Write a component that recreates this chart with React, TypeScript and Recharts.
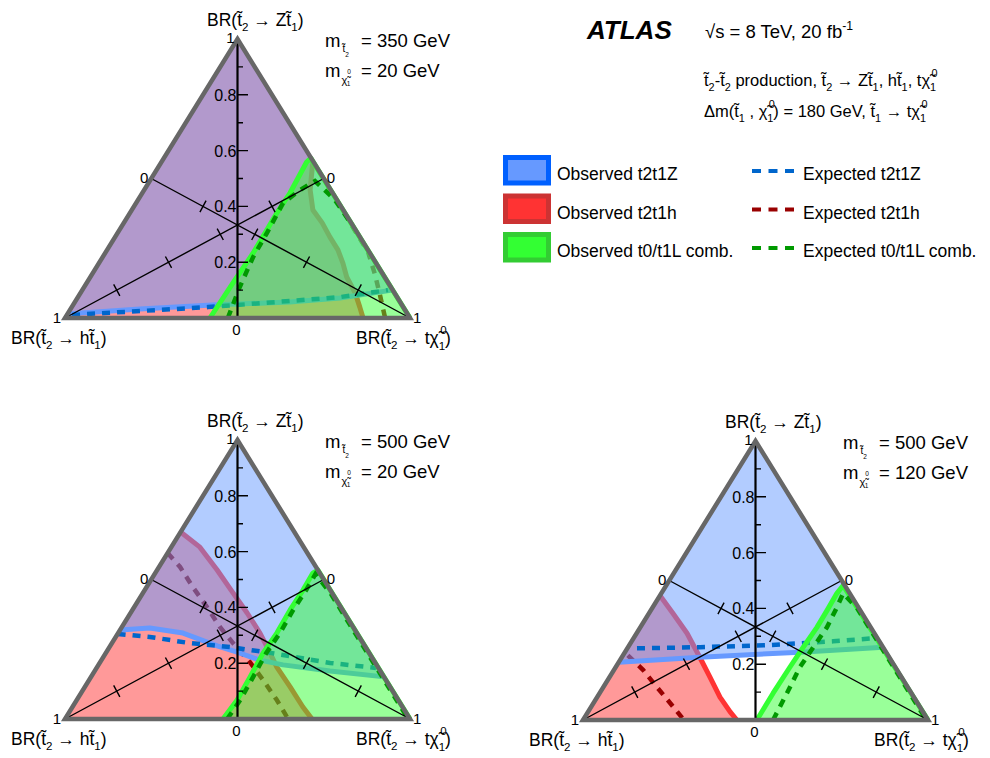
import React from 'react';
import { ComposedChart, XAxis, YAxis, Area, Scatter } from 'recharts';

// Every point is a ternary value pair: [BR(t2 -> t chi1), BR(t2 -> Z t1)];  BR(t2 -> h t1) = 1 - sum
type TP = [number, number];

// ---------- Panel A : m(t2) = 350 GeV, m(chi) = 20 GeV ----------
const redObsA: TP[] = [[0.439, 0.559], [0.451, 0.53], [0.481, 0.459], [0.525, 0.387], [0.575, 0.341], [0.623, 0.29], [0.669, 0.244], [0.707, 0.197], [0.743, 0.147], [0.796, 0.09], [0.835, 0.039], [0.864, 0]];
const redExpA: TP[] = [[0.667, 0.33], [0.76, 0.237], [0.822, 0.154], [0.872, 0.082], [0.928, 0]];
const blueObsA: TP[] = [[0, 0.014], [0.201, 0.032], [0.403, 0.047], [0.623, 0.057], [0.761, 0.072], [0.898, 0.1]];
const blueExpA: TP[] = [[0.015, 0.011], [0.205, 0.025], [0.395, 0.039], [0.622, 0.061], [0.76, 0.075], [0.886, 0.1]];
const greenObsA: TP[] = [[0.42, 0], [0.424, 0.125], [0.429, 0.233], [0.426, 0.376], [0.428, 0.448], [0.421, 0.559], [0.426, 0.573]];
const greenExpA: TP[] = [[0.472, 0], [0.451, 0.111], [0.436, 0.219], [0.433, 0.305], [0.426, 0.412], [0.452, 0.459], [0.479, 0.491], [0.571, 0.423], [0.654, 0.344]];

// ---------- Panel B : m(t2) = 500 GeV, m(chi) = 20 GeV ----------
const redObsB: TP[] = [[0, 0.67], [0.083, 0.616], [0.174, 0.534], [0.261, 0.452], [0.338, 0.38], [0.411, 0.308], [0.457, 0.258], [0.521, 0.186], [0.595, 0.115], [0.668, 0.043], [0.716, 0]];
const redExpB: TP[] = [[0, 0.595], [0.061, 0.545], [0.134, 0.473], [0.211, 0.401], [0.284, 0.33], [0.351, 0.272], [0.434, 0.204], [0.504, 0.14], [0.58, 0.068], [0.64, 0.007]];
const blueObsB: TP[] = [[0, 0.319], [0.083, 0.326], [0.188, 0.308], [0.31, 0.262], [0.379, 0.24], [0.459, 0.211], [0.535, 0.194], [0.682, 0.172], [0.85, 0.151]];
const blueExpB: TP[] = [[0, 0.305], [0.099, 0.294], [0.226, 0.272], [0.349, 0.258], [0.476, 0.237], [0.668, 0.201], [0.81, 0.183]];
const greenObsB: TP[] = [[0.458, 0], [0.465, 0.068], [0.461, 0.151], [0.456, 0.237], [0.46, 0.308], [0.457, 0.391], [0.459, 0.462], [0.457, 0.523], [0.466, 0.534]];
const greenExpB: TP[] = [[0.47, 0], [0.474, 0.068], [0.47, 0.151], [0.465, 0.237], [0.469, 0.308], [0.466, 0.391], [0.468, 0.462], [0.466, 0.52], [0.545, 0.45], [0.695, 0.3], [0.845, 0.15], [0.995, 0]];

// ---------- Panel C : m(t2) = 500 GeV, m(chi) = 120 GeV ----------
const redObsC: TP[] = [[0, 0.446], [0.07, 0.382], [0.146, 0.311], [0.226, 0.225], [0.291, 0.154], [0.356, 0.082], [0.412, 0.029], [0.446, 0]];
const redExpC: TP[] = [[0.014, 0.232], [0.085, 0.179], [0.155, 0.118], [0.222, 0.061], [0.288, 0.004]];
const blueObsC: TP[] = [[0, 0.207], [0.226, 0.225], [0.508, 0.243], [0.74, 0.261]];
const blueExpC: TP[] = [[0.028, 0.257], [0.209, 0.261], [0.399, 0.268], [0.584, 0.282], [0.697, 0.293]];
const greenObsC: TP[] = [[0.504, 0], [0.503, 0.096], [0.505, 0.189], [0.508, 0.261], [0.512, 0.332], [0.511, 0.393], [0.509, 0.454], [0.513, 0.482]];
const greenExpC: TP[] = [[0.551, 0], [0.543, 0.096], [0.534, 0.189], [0.537, 0.261], [0.541, 0.332], [0.534, 0.404], [0.527, 0.454], [0.595, 0.4], [0.745, 0.25], [0.895, 0.1], [0.995, 0]];

// triangle corners
const BL: TP = [0, 0];
const BRC: TP = [1, 0];
const APEX: TP = [0, 1];

const majorTicks = [0.2, 0.4, 0.6, 0.8];
const minorTicks = [0.1, 0.3, 0.5, 0.7, 0.9];
const majorLabels = ['0.2', '0.4', '0.6', '0.8'];
const cornerLabels: { p: TP; text: string; kind: string }[] = [
  { p: [0, 1], text: '1', kind: 'top' },
  { p: [0, 0.5], text: '0', kind: 'lmid' },
  { p: [0.5, 0.5], text: '0', kind: 'rmid' },
  { p: [0, 0], text: '1', kind: 'bl' },
  { p: [1, 0], text: '1', kind: 'br' },
  { p: [0.5, 0], text: '0', kind: 'base' },
];

const panels = [
  { id: 'A', mt2: 350, mchi: 20, ox: 0, oy: 0, redCorners: [BL, APEX], redObs: redObsA, redExp: redExpA, blueObs: blueObsA, blueExp: blueExpA, greenObs: greenObsA, greenExp: greenExpA },
  { id: 'B', mt2: 500, mchi: 20, ox: 0, oy: 401, redCorners: [BL], redObs: redObsB, redExp: redExpB, blueObs: blueObsB, blueExp: blueExpB, greenObs: greenObsB, greenExp: greenExpB },
  { id: 'C', mt2: 500, mchi: 120, ox: 518, oy: 402, redCorners: [BL], redObs: redObsC, redExp: redExpC, blueObs: blueObsC, blueExp: blueExpC, greenObs: greenObsC, greenExp: greenExpC },
];

// ---------- layout ----------
const FONT = '"Liberation Sans", Arial, Helvetica, sans-serif';
const W = 480, H = 360, BLX = 65, BLY = 318, SX = 345, SY = 279;
const XDOM: [number, number] = [-BLX / SX, (W - BLX) / SX];
const YDOM: [number, number] = [(BLY - H) / SY, BLY / SY];

const toXY = (p: TP) => ({ x: p[0] + p[1] / 2, y: p[1] });
const path = (pts: TP[]) => pts.map(toXY);
const poly = (pts: TP[]) => { const a = pts.map(toXY); return [...a, a[0]]; };

type Pt = { x: number; y: number | null };
const joinSegs = (list: { x: number; y: number }[][]): Pt[] => {
  const out: Pt[] = [];
  list.forEach((s) => { out.push(...s, { x: s[s.length - 1].x, y: null }); });
  return out;
};

const frameData = path([BL, BRC, APEX, BL, BRC]);
const medianData = path([APEX, [0.5, 0]]);
const diagData = joinSegs([path([BL, [0.5, 0.5]]), path([BRC, [0, 0.5]])]);

function crossTick(v: TP, m: TP, t: number, half: number) {
  const V = toXY(v), M = toXY(m);
  const px = V.x + t * (M.x - V.x), py = V.y + t * (M.y - V.y);
  const dpx = (M.x - V.x) * SX, dpy = -(M.y - V.y) * SY;
  const len = Math.hypot(dpx, dpy);
  const nx = -dpy / len, ny = dpx / len;
  const ddx = (nx * half) / SX, ddy = (-ny * half) / SY;
  return [{ x: px - ddx, y: py - ddy }, { x: px + ddx, y: py + ddy }];
}

const tickData = joinSegs([
  ...majorTicks.map((v) => crossTick(BL, [0.5, 0.5], 1 - v, 6.5)),
  ...majorTicks.map((v) => crossTick(BRC, [0, 0.5], 1 - v, 6.5)),
  ...majorTicks.map((v) => [{ x: 0.5, y: v }, { x: 0.5 + 10.5 / SX, y: v }]),
  ...minorTicks.map((v) => [{ x: 0.5, y: v }, { x: 0.5 + 5.5 / SX, y: v }]),
]);

const labelData = [
  ...majorTicks.map((v, i) => ({ ...toXY([(1 - v) / 2, v]), label: majorLabels[i], kind: 'm' })),
  ...cornerLabels.map((c) => ({ ...toXY(c.p), label: c.text, kind: c.kind })),
];

const LBL: Record<string, { dx: number; dy: number; anchor: string; fs: number }> = {
  m: { dx: -1, dy: 6, anchor: 'end', fs: 16 },
  top: { dx: -3, dy: 4, anchor: 'end', fs: 15 },
  lmid: { dx: -3, dy: 4, anchor: 'end', fs: 15 },
  rmid: { dx: 3, dy: 4, anchor: 'start', fs: 15 },
  bl: { dx: -4, dy: 5, anchor: 'end', fs: 15 },
  br: { dx: 3, dy: 5, anchor: 'start', fs: 15 },
  base: { dx: -1, dy: 17, anchor: 'middle', fs: 15 },
};

const LabelShape = (props: any) => {
  const { cx, cy, payload } = props;
  const o = LBL[payload.kind];
  return (
    <text x={cx + o.dx} y={cy + o.dy} textAnchor={o.anchor as any} fontSize={o.fs} fontFamily={FONT} fill="#000">
      {payload.label}
    </text>
  );
};

const COL = {
  redFill: '#ff3333', redLine: '#ff3333', redExp: '#990000',
  blueFill: '#6699ff', blueLine: '#6699ff', blueExp: '#0066cc',
  greenFill: '#33ff33', greenLine: '#33ff33', greenExp: '#009900',
};

const fillArea = (key: string, data: any[], color: string) => (
  <Area key={key} data={data} dataKey="y" type="linear" baseValue={0} stroke="none" fill={color} fillOpacity={0.5} dot={false} activeDot={false} isAnimationActive={false} />
);
const lineArea = (key: string, data: any[], color: string, width: number, dash?: string, join: any = 'round') => (
  <Area key={key} data={data} dataKey="y" type="linear" baseValue={0} stroke={color} strokeWidth={width} strokeDasharray={dash} strokeLinejoin={join} fill="none" fillOpacity={0} dot={false} activeDot={false} isAnimationActive={false} />
);

function TernaryPanel({ p }: { p: (typeof panels)[number] }) {
  return (
    <ComposedChart width={W} height={H} margin={{ top: 0, right: 0, bottom: 0, left: 0 }}>
      <XAxis type="number" dataKey="x" domain={XDOM} hide allowDataOverflow />
      <YAxis type="number" dataKey="y" domain={YDOM} hide allowDataOverflow />
      {fillArea('rf', poly([...(p.redCorners as TP[]), ...p.redObs]), COL.redFill)}
      {lineArea('rl', path(p.redObs), COL.redLine, 5)}
      {lineArea('re', path(p.redExp), COL.redExp, 4.5, '8 7', 'miter')}
      {fillArea('bf', poly([...p.blueObs, APEX]), COL.blueFill)}
      {lineArea('bl', path(p.blueObs), COL.blueLine, 5)}
      {lineArea('be', path(p.blueExp), COL.blueExp, 4.5, '8 7', 'miter')}
      {fillArea('gf', poly([...p.greenObs, BRC]), COL.greenFill)}
      {lineArea('gl', path([...p.greenObs, BRC]), COL.greenLine, 5)}
      {lineArea('ge', path(p.greenExp), COL.greenExp, 4.5, '8 7', 'miter')}
      {lineArea('ax', diagData, '#000', 1.4)}
      {lineArea('md', medianData, '#000', 2.2)}
      {lineArea('tk', tickData, '#000', 1.4)}
      {lineArea('fr', frameData, '#676767', 4.5, undefined, 'miter')}
      <Scatter data={labelData} dataKey="y" shape={LabelShape} isAnimationActive={false} />
    </ComposedChart>
  );
}

// ---------- rich text helper ----------
type Part = string | { sub: string } | { sup: string } | { ss: [string, string] };
function Rich({ x, y, fs, parts, ...rest }: { x: number; y: number; fs: number; parts: Part[]; [k: string]: any }) {
  const sfs = fs * 0.66;
  const out: any[] = [];
  let off = 0;
  parts.forEach((p, i) => {
    if (typeof p === 'string') {
      out.push(<tspan key={i} dy={-off} fontSize={fs}>{p}</tspan>);
      off = 0;
    } else if ('sub' in p) {
      const d = fs * 0.3;
      out.push(<tspan key={i} dy={d - off} fontSize={sfs}>{p.sub}</tspan>);
      off = d;
    } else if ('sup' in p) {
      const d = -fs * 0.42;
      out.push(<tspan key={i} dy={d - off} fontSize={sfs}>{p.sup}</tspan>);
      off = d;
    } else {
      const up = -fs * 0.55, dn = fs * 0.32;
      out.push(<tspan key={i + 'a'} dx={1.5} dy={up - off} fontSize={sfs}>{p.ss[0]}</tspan>);
      out.push(<tspan key={i + 'b'} dx={-sfs * 0.56 - 1.5} dy={dn - up} fontSize={sfs}>{p.ss[1]}</tspan>);
      off = dn;
    }
  });
  return (
    <text x={x} y={y} fontSize={fs} fontFamily={FONT} fill="#000" style={{ whiteSpace: 'pre' }} {...rest}>
      {out}
    </text>
  );
}

const T = 't\u0303';
const CHI = '\u03c7\u0303';
const brZ: Part[] = ['BR(' + T, { sub: '2' }, ' \u2192 Z' + T, { sub: '1' }, ')'];
const brH: Part[] = ['BR(' + T, { sub: '2' }, ' \u2192 h' + T, { sub: '1' }, ')'];
const brChi: Part[] = ['BR(' + T, { sub: '2' }, ' \u2192 t' + CHI, { ss: ['0', '1'] }, ')'];

const legendObs = [
  { text: 'Observed t2t1Z', border: '#0060ff', fill: '#6699ff' },
  { text: 'Observed t2t1h', border: '#cc3333', fill: '#ff3333' },
  { text: 'Observed t0/t1L comb.', border: '#33cc33', fill: '#33ff33' },
];
const legendExp = [
  { text: 'Expected t2t1Z', color: '#0066cc' },
  { text: 'Expected t2t1h', color: '#990000' },
  { text: 'Expected t0/t1L comb.', color: '#009900' },
];

export default function App() {
  return (
    <div style={{ position: 'absolute', left: 0, top: 0, width: 990, height: 758, background: '#fff', fontFamily: FONT, overflow: 'hidden' }}>
      {panels.map((p) => (
        <div key={p.id} style={{ position: 'absolute', left: p.ox, top: p.oy, width: W, height: H }}>
          <TernaryPanel p={p} />
        </div>
      ))}
      <svg width={990} height={758} style={{ position: 'absolute', left: 0, top: 0, pointerEvents: 'none' }}>
        {panels.map((p) => (
          <g key={p.id}>
            <Rich x={p.ox + 207} y={p.oy + 26} fs={17.5} parts={brZ} />
            <Rich x={p.ox + 11} y={p.oy + 344} fs={17.5} parts={brH} />
            <Rich x={p.ox + 356} y={p.oy + 344} fs={17.5} parts={brChi} />
            <text x={p.ox + 325} y={p.oy + 47} fontSize={18.5} fontFamily={FONT} style={{ whiteSpace: 'pre' }}>
              m<tspan dx={2} dy={5} fontSize={10}>{T}</tspan>
              <tspan dy={5} fontSize={6.5}>2</tspan>
              <tspan x={p.ox + 361} dy={-10} fontSize={18.5}>{'= ' + p.mt2 + ' GeV'}</tspan>
            </text>
            <text x={p.ox + 325} y={p.oy + 77} fontSize={18.5} fontFamily={FONT} style={{ whiteSpace: 'pre' }}>
              m<tspan dx={1} dy={7} fontSize={11}>{CHI}</tspan>
              <tspan dy={-10} fontSize={6.5}>0</tspan>
              <tspan dx={-4} dy={12} fontSize={6.5}>1</tspan>
              <tspan x={p.ox + 361} dy={-9} fontSize={18.5}>{'= ' + p.mchi + ' GeV'}</tspan>
            </text>
          </g>
        ))}

        <text x={587} y={39} fontSize={26} fontWeight="bold" fontStyle="italic" fontFamily={FONT}>ATLAS</text>
        <Rich x={705} y={38} fs={18.5} parts={['\u221As = 8 TeV, 20 fb', { sup: '-1' }]} />
        <Rich x={704} y={86} fs={16.5} parts={[T, { sub: '2' }, '-' + T, { sub: '2' }, ' production, ' + T, { sub: '2' }, ' \u2192 Z' + T, { sub: '1' }, ', h' + T, { sub: '1' }, ', t' + CHI, { ss: ['0', '1'] }]} />
        <Rich x={704} y={117} fs={16.5} parts={['\u0394m(' + T, { sub: '1' }, ' , ' + CHI, { ss: ['0', '1'] }, ') = 180 GeV, ' + T, { sub: '1' }, ' \u2192 t' + CHI, { ss: ['0', '1'] }]} />

        {legendObs.map((l, i) => (
          <g key={'o' + i}>
            <rect x={505.5} y={157.5 + i * 38.5} width={43} height={25.5} fill={l.fill} stroke={l.border} strokeWidth={5} />
            <text x={557} y={180 + i * 38.5} fontSize={17.5} fontFamily={FONT}>{l.text}</text>
          </g>
        ))}
        {legendExp.map((l, i) => (
          <g key={'e' + i}>
            <line x1={752} x2={794} y1={171 + i * 38.5} y2={171 + i * 38.5} stroke={l.color} strokeWidth={4} strokeDasharray="9 7.5" />
            <text x={803} y={180 + i * 38.5} fontSize={17.5} fontFamily={FONT}>{l.text}</text>
          </g>
        ))}
      </svg>
    </div>
  );
}
